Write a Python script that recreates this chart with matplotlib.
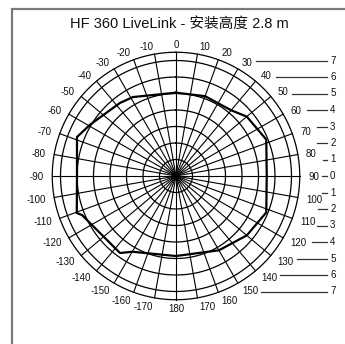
import numpy as np
import matplotlib
matplotlib.use("Agg")
import matplotlib.pyplot as plt
from matplotlib.patches import Rectangle

plt.rcParams['font.family'] = ['Liberation Sans', 'Noto Sans CJK SC', 'DejaVu Sans']

title = "HF 360 LiveLink - 安装高度 2.8 m"

# polar grid: angles in degrees (0 at top, clockwise), rings in scale units
spoke_angles = np.arange(-170, 190, 10)
ring_radii = [1, 2, 3, 4, 5, 6, 7]
outer_radius = 7.5

# detection outline (angle, radius)
zone_angles = [0, 20, 40, 50, 68, 90, 112, 130, 150, 180,
               -150, -144, -112.5, -110.5, -90, -68.5, -59, -37.5, -28.6, 0]
zone_radii = [5.05, 5.15, 5.2, 5.6, 5.9, 5.5, 5.9, 5.6, 5.2, 4.85,
              5.3, 5.77, 6.17, 6.42, 6.0, 6.45, 6.06, 5.58, 5.45, 5.05]

# side scale: level labels and left end of each bar
scale_levels = [7, 6, 5, 4, 3, 2, 1, 0, -1, -2, -3, -4, -5, -6, -7]
scale_labels = ["7", "6", "5", "4", "3", "2", "1", "0", "1", "2", "3", "4", "5", "6", "7"]
scale_start = [4.85, 6.06, 7.03, 7.94, 8.54, 8.54, 8.9, 8.85,
               8.85, 8.6, 8.55, 8.24, 7.33, 6.3, 5.15]
scale_end = 9.15

fig = plt.figure(figsize=(3.45, 3.44), dpi=100)
ax = fig.add_axes([0, 0, 1, 1])
ax.set_xlim(-176 / 16.5, 169 / 16.5)
ax.set_ylim(-168 / 16.5, 176 / 16.5)
ax.axis("off")

# frame
fig.patches.append(Rectangle((12 / 345, -0.1), 1.2, 1 - 9 / 344 + 0.1,
                             transform=fig.transFigure, fill=False,
                             edgecolor="#7a7a7a", linewidth=1.6))

t = np.linspace(0, 2 * np.pi, 400)
for r in ring_radii + [outer_radius]:
    ax.plot(r * np.sin(t), r * np.cos(t), color="black", lw=0.9)

for a in spoke_angles:
    th = np.radians(a)
    ax.plot([0, outer_radius * np.sin(th)], [0, outer_radius * np.cos(th)],
            color="black", lw=0.8)

# angle labels
for a in spoke_angles:
    th = np.radians(a)
    s, c = np.sin(th), np.cos(th)
    ha = "left" if s > 1e-6 else ("right" if s < -1e-6 else "center")
    ax.text(8.0 * s, 8.0 * c, str(a), ha=ha, va="center_baseline",
            fontsize=7, color="#111111")

# detection zone
zt = np.radians(zone_angles)
zr = np.array(zone_radii)
ax.plot(zr * np.sin(zt), zr * np.cos(zt), color="black", lw=1.6)

# side scale bars
for lvl, lab, x0 in zip(scale_levels, scale_labels, scale_start):
    ax.plot([x0, scale_end], [lvl, lvl], color="#333333", lw=0.9)
    ax.text(scale_end + 0.35, lvl, lab, ha="center", va="center", fontsize=7, color="#111111")

ax.text(0.18, 9.21, title, ha="center", va="center", fontsize=10.5, color="#111111")

fig.savefig("out.png", dpi=100)
